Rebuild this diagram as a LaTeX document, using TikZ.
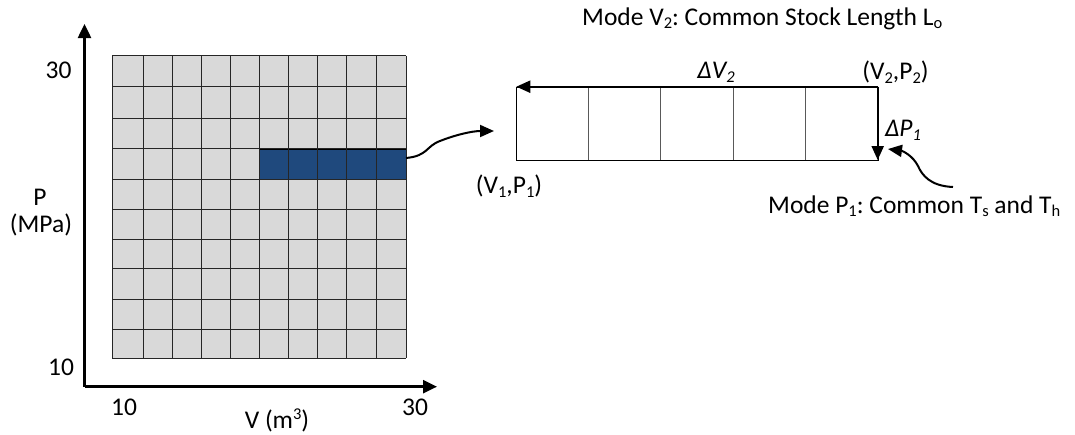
\documentclass[tikz,border=0pt]{standalone}
\usepackage{fontspec}
\setmainfont{Carlito}
\usetikzlibrary{arrows.meta}
\frenchspacing
\newcommand{\sbs}[1]{\raisebox{-0.3ex}{\fontsize{16.5}{16.5}\selectfont #1}}
\newcommand{\sps}[1]{\raisebox{0.75ex}{\fontsize{16.5}{16.5}\selectfont #1}}
\definecolor{cellgray}{HTML}{D9D9D9}
\definecolor{selblue}{HTML}{1F497D}
\definecolor{boxline}{HTML}{595959}
\tikzset{
  lbl/.style={inner sep=0pt, font=\fontsize{25.5}{30}\selectfont},
  axis/.style={line width=2.5pt, -{Triangle[length=14pt,width=13pt]}},
  gridln/.style={line width=0.9pt, draw=black!85},
  boldarrow/.style={line width=2.2pt, -{Triangle[length=14pt,width=12pt]}},
  curvearrow/.style={line width=2pt, -{Triangle[length=14pt,width=12pt]}},
}
\begin{document}
\begin{tikzpicture}[x=1pt,y=-1pt]
\useasboundingbox (0,0) rectangle (1075,434);
% grid
\fill[cellgray] (112.3,55.7) rectangle (406,358.3);
\node[fill=selblue, draw=black, line width=0.9pt, inner sep=0pt, minimum width=146.7pt, minimum height=30.3pt, anchor=north west] (sel) at (259.3,148.7) {};
\foreach \x in {112.3,143,172,201,230.7,259.3,288.7,317.7,346.7,376,406}
  \draw[gridln] (\x,55.7) -- (\x,358.3);
\foreach \y in {55.7,86.3,118.3,148.7,179,209,239,268,299.7,329.7,358.3}
  \draw[gridln] (112.3,\y) -- (406,\y);
% axes
\coordinate (origin) at (84.5,386.7);
\coordinate (ytip) at (84.5,24);
\coordinate (xtip) at (437,386.7);
\draw[axis] (origin) -- (ytip);
\draw[axis] (origin) -- (xtip);
% axis labels
\node[lbl] (y30) at (58.5,70) {30};
\node[lbl] (y10) at (61,367) {10};
\node[lbl] (pl) at (40,197) {P};
\node[lbl] (mpa) at (41,225) {(MPa)};
\node[lbl] (x10) at (124,407) {10};
\node[lbl] (x30) at (415,407) {30};
\node[lbl] (vl) at (277,420) {V (m\sps{3})};
% right box
\node[draw=black, line width=0.9pt, inner sep=0pt, minimum width=361.4pt, minimum height=73.3pt, anchor=north west] (box) at (516.3,86.7) {};
\foreach \x in {588.6,660.9,733.2,805.4}
  \draw[boxline, line width=0.9pt] (\x,86.7) -- (\x,160);
\coordinate (tr) at (877.7,86.7);
\coordinate (tl) at (516.3,86.7);
\coordinate (br) at (877.7,160);
\draw[boldarrow] (tr) -- (tl);
\draw[boldarrow] (tr) -- (br);
% connectors
\coordinate (c1) at (406,158);
\coordinate (c1t) at (494,131);
\draw[curvearrow] (c1) .. controls (428,156) and (426,146) .. (440,141) .. controls (455,135) and (472,131) .. (c1t);
\coordinate (c2) at (953,187);
\coordinate (c2t) at (888,149);
\draw[curvearrow] (c2) .. controls (930,186) and (922,175) .. (918,166) .. controls (913,156) and (903,151) .. (c2t);
% labels
\node[lbl, anchor=base west] (title) at (582,25) {Mode V\sbs{2}: Common Stock Length L\sbs{o}};
\node[lbl] (dv) at (716,72) {\itshape ΔV\sbs{2}};
\node[lbl] (v2p2) at (895.5,72) {(V\sbs{2},P\sbs{2})};
\node[lbl] (dp) at (903,130) {\itshape ΔP\sbs{1}};
\node[lbl] (v1p1) at (509,186) {(V\sbs{1},P\sbs{1})};
\node[lbl, anchor=base west] (modep) at (768,213) {Mode P\sbs{1}: Common T\sbs{s} and T\sbs{h}};
\end{tikzpicture}
\end{document}
